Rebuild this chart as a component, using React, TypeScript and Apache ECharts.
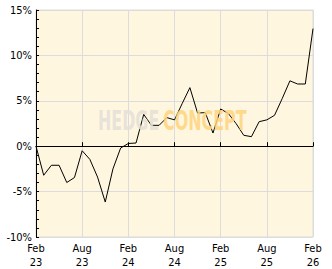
import React, { useEffect, useRef } from "react";
import * as echarts from "echarts";

const categories = [
  "Feb 23", "Mar 23", "Apr 23", "May 23", "Jun 23", "Jul 23", "Aug 23", "Sep 23", "Oct 23", "Nov 23", "Dec 23", "Jan 24",
  "Feb 24", "Mar 24", "Apr 24", "May 24", "Jun 24", "Jul 24", "Aug 24", "Sep 24", "Oct 24", "Nov 24", "Dec 24", "Jan 25",
  "Feb 25", "Mar 25", "Apr 25", "May 25", "Jun 25", "Jul 25", "Aug 25", "Sep 25", "Oct 25", "Nov 25", "Dec 25", "Jan 26",
  "Feb 26",
];

const performance = [
  0, -3.2, -2.1, -2.1, -4.0, -3.45, -0.5, -1.45, -3.4, -6.15, -2.5, -0.2,
  0.3, 0.35, 3.5, 2.3, 2.3, 3.15, 2.9, 4.7, 6.45, 3.65, 3.7, 1.45,
  4.1, 3.6, 2.5, 1.2, 1.05, 2.7, 2.9, 3.4, 5.25, 7.2, 6.85, 6.85,
  12.95,
];

const yMin = -10;
const yMax = 15;
const yStep = 5;

const labelFont = '"Liberation Sans Narrow", "DejaVu Sans Condensed", sans-serif';

export default function App() {
  const ref = useRef<HTMLDivElement>(null);
  useEffect(() => {
    if (!ref.current) return;
    const chart = echarts.init(ref.current, undefined, { renderer: "svg" });
    chart.setOption({
      animation: false,
      backgroundColor: "#ffffff",
      grid: {
        left: 36,
        top: 10,
        right: 19,
        bottom: 32,
        show: true,
        backgroundColor: "#FFF6DF",
        borderColor: "#dcdcdc",
        borderWidth: 1,
      },
      xAxis: {
        type: "category",
        data: categories,
        boundaryGap: false,
        axisLine: { lineStyle: { color: "#000", width: 1 } },
        axisTick: { inside: true, length: 4, interval: 5, lineStyle: { color: "#000" } },
        axisLabel: {
          interval: 5,
          formatter: (v: string) => v.replace(" ", "\n"),
          color: "#000",
          fontFamily: labelFont,
          fontSize: 11,
          lineHeight: 14,
          margin: 4,
        },
        splitLine: { show: true, interval: 5, lineStyle: { color: "#dcdcdc", width: 1 } },
      },
      yAxis: {
        type: "value",
        min: yMin,
        max: yMax,
        interval: yStep,
        axisLine: { show: true, lineStyle: { color: "#000", width: 1 } },
        axisTick: { show: true, inside: true, length: 3, lineStyle: { color: "#000" } },
        minorTick: { show: true, splitNumber: 5, length: 3, lineStyle: { color: "#000" } },
        axisLabel: {
          formatter: (v: number) => `${v}%`,
          color: "#000",
          fontFamily: labelFont,
          fontSize: 11,
          margin: 4,
        },
        splitLine: { show: true, lineStyle: { color: "#dcdcdc", width: 1 } },
      },
      series: [
        {
          type: "line",
          data: performance,
          showSymbol: false,
          symbol: "none",
          lineStyle: { color: "#000", width: 1 },
          z: 2,
        },
      ],
      graphic: [
        {
          type: "text",
          x: 98,
          y: 108,
          scaleX: 0.68,
          z: 100,
          silent: true,
          style: {
            text: "HEDGE",
            font: 'bold 26px "DejaVu Sans Condensed", sans-serif',
            fill: "#E3E0D8",
            opacity: 0.85,
            textVerticalAlign: "top",
          },
        },
        {
          type: "text",
          x: 163,
          y: 108,
          scaleX: 0.68,
          z: 100,
          silent: true,
          style: {
            text: "CONCEPT",
            font: 'bold 26px "DejaVu Sans Condensed", sans-serif',
            fill: "#FFD47C",
            opacity: 0.85,
            textVerticalAlign: "top",
          },
        },
      ],
    });
    return () => chart.dispose();
  }, []);
  return (
    <div
      ref={ref}
      style={{ position: "fixed", left: 0, top: 0, width: 332, height: 269 }}
    />
  );
}
